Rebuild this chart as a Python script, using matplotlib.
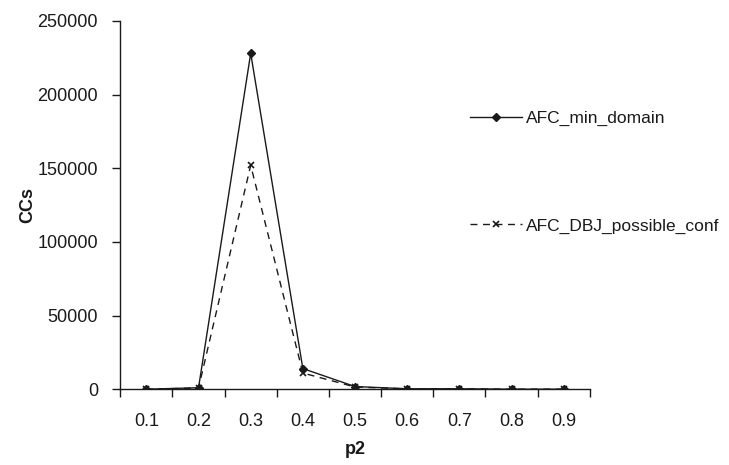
import matplotlib.pyplot as plt
import numpy as np

plt.rcParams['font.family'] = ['Liberation Sans', 'DejaVu Sans']

p2 = ['0.1', '0.2', '0.3', '0.4', '0.5', '0.6', '0.7', '0.8', '0.9']
min_domain = [0, 1000, 228000, 14000, 1800, 300, 300, 0, 0]
dbj_possible_conf = [0, 800, 152000, 11000, 1500, 200, 200, 0, 0]

ink = '#1a1a1a'
fig = plt.figure(figsize=(7.29, 4.65), dpi=100)
ax = fig.add_axes([0.165, 0.163, 0.644, 0.792])

x = np.arange(1, len(p2) + 1)
ax.plot(x, min_domain, color=ink, lw=1.0, marker='D', ms=4.5,
        label='AFC_min_domain')
ax.plot(x, dbj_possible_conf, color=ink, lw=1.0, ls=(0, (5, 4)), marker='x',
        ms=5, mew=1.2, label='AFC_DBJ_possible_conf')

ax.set_xlim(0.5, len(p2) + 0.5)
ax.set_ylim(0, 250000)
ax.set_yticks(range(0, 250001, 50000))
ax.set_xticks(x)
ax.set_xticklabels(p2)
ax.set_xticks(np.arange(0.5, len(p2) + 1), minor=True)
ax.tick_params(axis='x', which='major', length=0, pad=17, labelsize=13, colors=ink)
ax.tick_params(axis='x', which='minor', length=6, width=1, color=ink)
ax.tick_params(axis='y', length=6, width=1, labelsize=13, colors=ink, pad=10)

for s in ['top', 'right']:
    ax.spines[s].set_visible(False)
for s in ['left', 'bottom']:
    ax.spines[s].set_color(ink)
    ax.spines[s].set_linewidth(1.0)

ax.set_xlabel('p2', fontsize=13, fontweight='bold', color=ink, labelpad=8)
ax.set_ylabel('CCs', fontsize=13, fontweight='bold', color=ink, labelpad=1)

ax.legend(loc='upper left', bbox_to_anchor=(470 / 729, 1 - 111 / 465),
          bbox_transform=fig.transFigure, frameon=False, borderpad=0,
          borderaxespad=0, fontsize=12.5, labelspacing=5.3, handlelength=3.0,
          handletextpad=0.2, labelcolor=ink)

fig.savefig('out.png', dpi=100)
